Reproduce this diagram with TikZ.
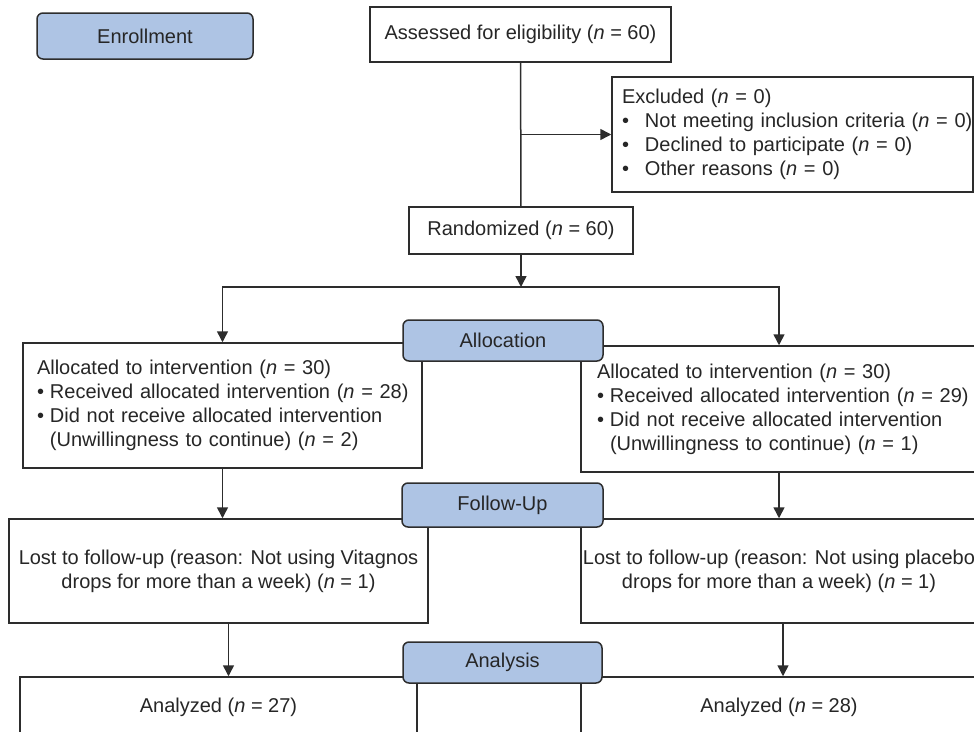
\documentclass[tikz,border=0pt]{standalone}
\usepackage{fontspec}
\setmainfont{Liberation Sans}
\usetikzlibrary{arrows.meta}
\definecolor{stageblue}{RGB}{174,196,228}
\definecolor{linegray}{RGB}{45,45,45}
\newcommand{\nv}{\textit{n}}
\newcommand{\bul}{\makebox[13pt][l]{•}}

\begin{document}
\begin{tikzpicture}[x=1pt, y=-1pt, line width=1.5pt, font=\fontsize{20}{24}\selectfont]
    \tikzstyle{box_style} = [rectangle, draw=linegray, fill=white, text=black!85, inner sep=0pt]
    \tikzstyle{stage_style} = [rectangle, rounded corners=6pt, draw=linegray, fill=stageblue, text=black!85, inner sep=0pt]
    \tikzstyle{line_style} = [draw=linegray]
    \tikzstyle{arrow_style} = [draw=linegray, -{Triangle[length=11pt,width=11pt]}]
    \clip (0,0) rectangle (974,731);

    % white boxes
    \node[box_style, minimum width=301pt, minimum height=55pt] (assess) at (520.5,34.5) {Assessed for eligibility (\nv{} = 60)};
    \node[box_style, minimum width=361pt, minimum height=115pt, text width=341pt, align=left] (excl) at (792.5,134.5)
        {\mbox{Excluded (\nv{} = 0)}\\ \mbox{\makebox[23pt][l]{•}Not meeting inclusion criteria (\nv{} = 0)}\\ \mbox{\makebox[23pt][l]{•}Declined to participate (\nv{} = 0)}\\ \mbox{\makebox[23pt][l]{•}Other reasons (\nv{} = 0)}};
    \node[box_style, minimum width=224pt, minimum height=47pt] (rand) at (521,230.5) {Randomized (\nv{} = 60)};
    \node[box_style, minimum width=399pt, minimum height=125pt, text width=371pt, align=left] (allocL) at (222.5,405.5)
        {\mbox{Allocated to intervention (\nv{} = 30)}\\ \mbox{\bul Received allocated intervention (\nv{} = 28)}\\ \mbox{\bul Did not receive allocated intervention}\\ \mbox{\hspace*{13pt}(Unwillingness to continue) (\nv{} = 2)}};
    \node[box_style, minimum width=396pt, minimum height=126pt, text width=364pt, align=left] (allocR) at (779,409)
        {\mbox{Allocated to intervention (\nv{} = 30)}\\ \mbox{\bul Received allocated intervention (\nv{} = 29)}\\ \mbox{\bul Did not receive allocated intervention}\\ \mbox{\hspace*{13pt}(Unwillingness to continue) (\nv{} = 1)}};
    \node[box_style, minimum width=419pt, minimum height=104pt, align=center] (followL) at (218.5,571)
        {Lost to follow-up (reason: Not using Vitagnos\\ drops for more than a week) (\nv{} = 1)};
    \node[box_style, minimum width=396pt, minimum height=104pt, align=center] (followR) at (779,571)
        {Lost to follow-up (reason: Not using placebo\\ drops for more than a week) (\nv{} = 1)};
    \node[box_style, minimum width=397pt, minimum height=60pt] (anaL) at (218.5,707) {Analyzed (\nv{} = 27)};
    \node[box_style, minimum width=396pt, minimum height=60pt] (anaR) at (779,707) {Analyzed (\nv{} = 28)};
    \coordinate (split) at (521,287);

    \draw[line_style]  (assess) -- (rand);
    \draw[arrow_style] (assess.south |- excl.west) -- (excl.west);
    \draw[arrow_style] (rand.south) -- (split);
    \draw[arrow_style] (split) -| (allocL.north);
    \draw[arrow_style] (split) -| (allocR.north);
    \draw[arrow_style] (allocL.south) -- (allocL.south |- followL.north);
    \draw[arrow_style] (allocR.south) -- (allocR.south |- followR.north);
    \draw[arrow_style] ([xshift=10pt]followL.south) -- ([xshift=10pt]followL.south |- anaL.north);
    \draw[arrow_style] ([xshift=4pt]followR.south) -- ([xshift=4pt]followR.south |- anaR.north);

    % stage labels
    \node[stage_style, minimum width=216pt, minimum height=46pt] (enroll) at (145,36) {Enrollment};
    \node[stage_style, minimum width=200pt, minimum height=41pt] (alloc) at (503,340.5) {Allocation};
    \node[stage_style, minimum width=201pt, minimum height=44pt] (follow) at (502.5,505) {Follow-Up};
    \node[stage_style, minimum width=199pt, minimum height=41pt] (analysis) at (502.5,662.5) {Analysis};
\end{tikzpicture}
\end{document}
